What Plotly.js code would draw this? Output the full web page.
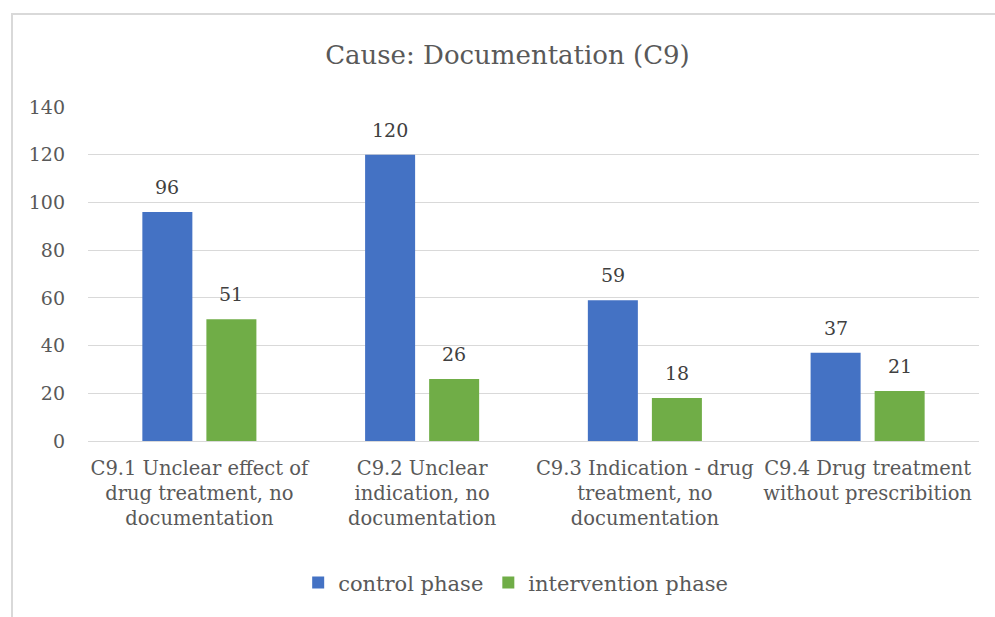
<!DOCTYPE html>
<html>
<head>
<meta charset="utf-8">
<script src="https://cdn.plot.ly/plotly-3.0.1.min.js"></script>
<style>
html,body{margin:0;padding:0;background:#fff;}
#chart{width:995px;height:617px;}
#frame{position:absolute;left:11px;top:13px;width:1000px;height:700px;border:2px solid #d9d9d9;pointer-events:none;}
</style>
</head>
<body>
<div id="chart"></div>
<div id="frame"></div>
<script>
const categories = [
  "C9.1 Unclear effect of<br>drug treatment, no<br>documentation",
  "C9.2 Unclear<br>indication, no<br>documentation",
  "C9.3 Indication - drug<br>treatment, no<br>documentation",
  "C9.4 Drug treatment<br>without prescribition"
];
const controlPhase = [96, 120, 59, 37];
const interventionPhase = [51, 26, 18, 21];
const seriesNames = ["control phase", "intervention phase"];
const yTicks = [0, 20, 40, 60, 80, 100, 120, 140];

const FONT = "DejaVu Serif, Liberation Serif, serif";
const blue = "#4472C4", green = "#70AD47";

const traces = [
  {type: "bar", name: seriesNames[0], x: categories, y: controlPhase, marker: {color: blue}, hoverinfo: "none"},
  {type: "bar", name: seriesNames[1], x: categories, y: interventionPhase, marker: {color: green}, hoverinfo: "none"}
];

const annotations = [];
[[controlPhase, -32], [interventionPhase, 32]].forEach(([vals, dx]) => {
  vals.forEach((v, i) => {
    annotations.push({
      x: categories[i], y: v, xref: "x", yref: "y", text: String(v),
      showarrow: false, xshift: dx, yanchor: "bottom", yshift: 12,
      font: {family: FONT, size: 19, color: "#404040"}
    });
  });
});

const layout = {
  width: 995, height: 617,
  margin: {l: 88, r: 16, t: 107, b: 176},
  paper_bgcolor: "#fff", plot_bgcolor: "#fff",
  font: {family: FONT, size: 19, color: "#595959"},
  title: {text: "Cause: Documentation (C9)", font: {family: FONT, size: 26, color: "#595959"},
          x: 0.51, xanchor: "center", y: 0.911, yref: "container", yanchor: "middle"},
  barmode: "group", bargap: 0.425, bargroupgap: 0.219,
  xaxis: {type: "category", showgrid: false, showline: false, ticks: "", zeroline: false,
          tickfont: {family: FONT, size: 19.5, color: "#595959"}, ticklabelstandoff: 13},
  yaxis: {range: [0, 140], tickvals: yTicks, showgrid: true, gridcolor: "#d9d9d9", gridwidth: 1,
          zeroline: true, zerolinecolor: "#d9d9d9", zerolinewidth: 1, showline: false, ticks: "",
          tickfont: {family: FONT, size: 19, color: "#595959"}, ticklabelstandoff: 22},
  showlegend: true,
  legend: {orientation: "h", x: 0.48, xanchor: "center", y: -0.425, yanchor: "middle",
           font: {family: FONT, size: 21, color: "#595959"}, itemwidth: 30, tracegroupgap: 0},
  annotations: annotations
};

Plotly.newPlot("chart", traces, layout, {staticPlot: true, displayModeBar: false});
</script>
</body>
</html>
